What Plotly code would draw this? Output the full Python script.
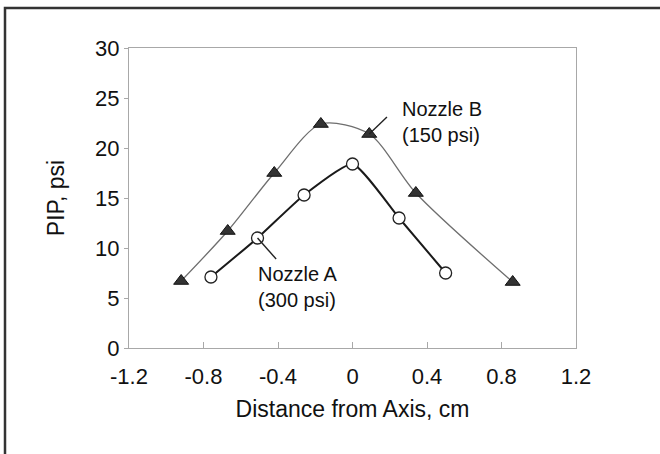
import plotly.graph_objects as go

# Data
nozzle_b_x = [-0.92, -0.67, -0.42, -0.17, 0.09, 0.34, 0.86]
nozzle_b_y = [6.7, 11.7, 17.5, 22.4, 21.4, 15.5, 6.6]
nozzle_a_x = [-0.76, -0.51, -0.26, 0.0, 0.25, 0.50]
nozzle_a_y = [7.1, 11.0, 15.3, 18.4, 13.0, 7.5]

x_ticks = [-1.2, -0.8, -0.4, 0, 0.4, 0.8, 1.2]
x_tick_labels = ["-1.2", "-0.8", "-0.4", "0", "0.4", "0.8", "1.2"]
y_ticks = [0, 5, 10, 15, 20, 25, 30]

label_b = "Nozzle B<br>(150 psi)"
label_a = "Nozzle A<br>(300 psi)"

FONT = "Liberation Sans, Arial, Helvetica, sans-serif"

fig = go.Figure()
fig.add_trace(go.Scatter(
    x=nozzle_b_x, y=nozzle_b_y, mode="lines+markers", name="Nozzle B",
    line=dict(color="#6e6e6e", width=1.3, shape="spline", smoothing=0.8),
    marker=dict(symbol="triangle-up", size=13, color="#333333",
                line=dict(color="#111111", width=1)),
))
fig.add_trace(go.Scatter(
    x=nozzle_a_x, y=nozzle_a_y, mode="lines+markers", name="Nozzle A",
    line=dict(color="#1a1a1a", width=2, shape="spline", smoothing=0.5),
    marker=dict(symbol="circle", size=12, color="white",
                line=dict(color="#222222", width=1.3)),
))

# leader lines from labels to points
fig.add_shape(type="line", xref="x", yref="y",
              x0=nozzle_b_x[4], y0=nozzle_b_y[4], x1=0.185, y1=23.1,
              line=dict(color="#222222", width=1.4))
fig.add_shape(type="line", xref="x", yref="y",
              x0=nozzle_a_x[1], y0=nozzle_a_y[1], x1=-0.41, y1=8.9,
              line=dict(color="#222222", width=1.4))

fig.add_annotation(x=0.255, y=22.6, xref="x", yref="y", text=label_b,
                   showarrow=False, xanchor="left", yanchor="middle", align="left",
                   font=dict(family=FONT, size=20, color="#111111"))
fig.add_annotation(x=-0.52, y=6.1, xref="x", yref="y", text=label_a,
                   showarrow=False, xanchor="left", yanchor="middle", align="left",
                   font=dict(family=FONT, size=20, color="#111111"))

# outer frame (left and top visible)
fig.add_shape(type="rect", xref="paper", yref="paper",
              x0=-0.2774, x1=1.22, y0=-0.42, y1=1.1333,
              line=dict(color="#333333", width=2.5), layer="below")

fig.update_layout(
    width=660, height=454,
    margin=dict(l=129, r=84, t=48, b=106),
    paper_bgcolor="white", plot_bgcolor="white",
    showlegend=False,
    font=dict(family=FONT, color="#111111"),
    xaxis=dict(
        range=[-1.2, 1.2], tickvals=x_ticks, ticktext=x_tick_labels,
        showgrid=False, zeroline=False,
        showline=True, mirror=True, linecolor="#a8a8a8", linewidth=1,
        ticks="inside", ticklen=6, tickcolor="#a8a8a8",
        tickfont=dict(size=22), ticklabelstandoff=9,
        title=dict(text="Distance from Axis, cm", font=dict(size=23), standoff=12),
    ),
    yaxis=dict(
        range=[0, 30], tickvals=y_ticks,
        showgrid=False, zeroline=False,
        showline=True, mirror=True, linecolor="#a8a8a8", linewidth=1,
        ticks="outside", ticklen=4, tickcolor="#a8a8a8",
        tickfont=dict(size=22),
        title=dict(text="PIP, psi", font=dict(size=23), standoff=24),
    ),
)

fig.write_html("out.html", config={"displayModeBar": False},
               post_script="document.body.style.margin='0';")
